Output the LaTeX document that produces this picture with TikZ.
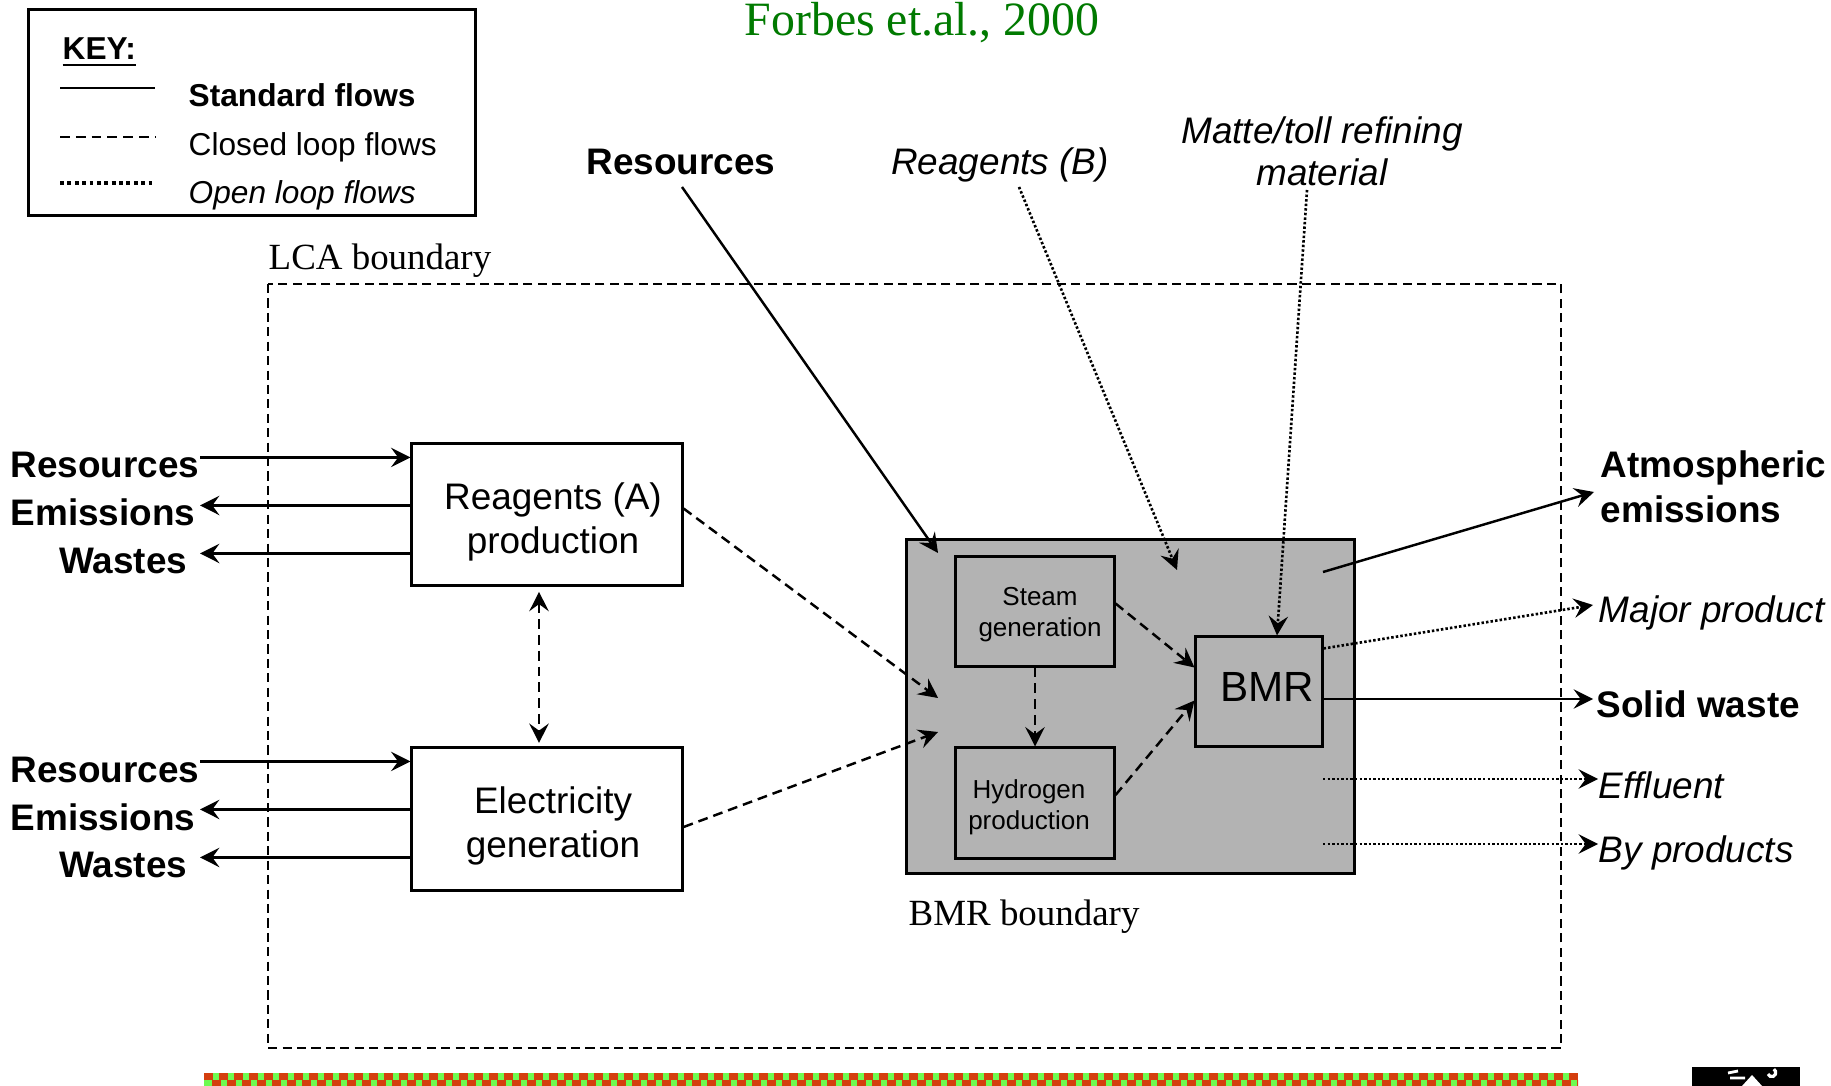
\documentclass[tikz,border=0pt]{standalone}
\usepackage{fontspec}
\setmainfont{Liberation Serif}
\setsansfont{Liberation Sans}
\usetikzlibrary{arrows.meta,calc}
\definecolor{bmrgray}{RGB}{179,179,179}
\definecolor{citegreen}{RGB}{0,122,0}
\definecolor{stripred}{RGB}{212,62,14}
\definecolor{stripgreen}{RGB}{110,250,80}
\tikzset{
  >={Stealth[length=5.5pt,width=5.5pt,inset=2pt]},
  flow/.style={line width=0.7pt,->},
  cflow/.style={flow,dash pattern=on 2.8pt off 1.7pt},
  oflow/.style={flow,line width=0.75pt,dash pattern=on 0.7pt off 0.6pt},
  lcadash/.style={line width=0.7pt,dash pattern=on 2.6pt off 1.5pt},
  bigbox/.style={draw,line width=0.85pt,fill=white,inner sep=0pt},
  smallbox/.style={draw,line width=0.85pt,fill=bmrgray,inner sep=0pt},
  bigtxt/.style={inner sep=0pt,align=center,font=\sffamily\fontsize{10.5}{12.5}\selectfont},
  smalltxt/.style={inner sep=0pt,align=center,font=\sffamily\fontsize{7.4}{8.9}\selectfont},
  boldlab/.style={inner sep=0pt,font=\sffamily\bfseries\fontsize{10.5}{12.8}\selectfont},
  itlab/.style={inner sep=0pt,font=\sffamily\itshape\fontsize{10.5}{12.2}\selectfont},
  seriflab/.style={inner sep=0pt,font=\rmfamily\fontsize{10.5}{12.5}\selectfont},
  keytxt/.style={inner sep=0pt,anchor=base west,font=\sffamily\fontsize{9}{11}\selectfont}
}

\begin{document}
\begin{tikzpicture}[x=0.01cm,y=-0.01cm]
    %%%%% START %%%%%
    \fill[white] (0,0) rectangle (1831,1086);
    \useasboundingbox (0,0) rectangle (1831,1086);

    \node[seriflab, text=citegreen, font=\rmfamily\fontsize{13.6}{16}\selectfont, anchor=base] (cite) at (922,36) {Forbes et.al., 2000};

    % key
    \node[draw, line width=0.85pt, minimum width=4.46cm, minimum height=2.05cm, inner sep=0pt] (keybox) at (252,112.5) {};
    \node[keytxt, font=\sffamily\bfseries\fontsize{9}{11}\selectfont] (keyhead) at (62,60) {\underline{KEY:}};
    \node[keytxt, font=\sffamily\bfseries\fontsize{9}{11}\selectfont] (keystd) at (188,107) {Standard flows};
    \node[keytxt] (keycl) at (188,156) {Closed loop flows};
    \node[keytxt, font=\sffamily\itshape\fontsize{9}{11}\selectfont] (keyop) at (188,204) {Open loop flows};
    \draw[line width=0.7pt] (60,88) -- (155,88);
    \draw[line width=0.7pt, dash pattern=on 2.8pt off 1.7pt] (60,137) -- (155,137);
    \draw[line width=1.1pt, dash pattern=on 1.1pt off 1pt] (60,183) -- (155,183);

    % LCA boundary
    \draw[lcadash] (268,284) rectangle (1561,1048);
    \node[seriflab, anchor=base west] (lcalab) at (268,270) {LCA boundary};

    \node[bigbox, minimum width=2.70cm, minimum height=1.41cm] (reagA) at (547,514.5) {};
    \node[bigtxt] (reagAtxt) at ($(reagA)+(6,7.5)$) {Reagents (A)\\production};
    \node[bigbox, minimum width=2.70cm, minimum height=1.42cm] (elec) at (547,819) {};
    \node[bigtxt] (electxt) at ($(elec)+(6,7)$) {Electricity\\generation};

    \node[boldlab, anchor=base east] (resA) at (200,478) {Resources};
    \node[boldlab, anchor=base east] (emA) at (196,526) {Emissions};
    \node[boldlab, anchor=base east] (wasA) at (188,574) {Wastes};
    \node[boldlab, anchor=base east] (resE) at (200,782) {Resources};
    \node[boldlab, anchor=base east] (emE) at (196,830) {Emissions};
    \node[boldlab, anchor=base east] (wasE) at (188,877) {Wastes};

    \coordinate (a1) at ($(reagA.north west)+(0,15)$);
    \coordinate (a2) at ($(reagA.north west)+(0,63)$);
    \coordinate (a3) at ($(reagA.north west)+(0,111)$);
    \coordinate (e1) at ($(elec.north west)+(0,15)$);
    \coordinate (e2) at ($(elec.north west)+(0,63)$);
    \coordinate (e3) at ($(elec.north west)+(0,111)$);
    \draw[flow] (resA.east |- a1) -- (a1);
    \draw[flow] (a2) -- (a2 -| resA.east);
    \draw[flow] (a3) -- (a3 -| resA.east);
    \draw[flow] (resE.east |- e1) -- (e1);
    \draw[flow] (e2) -- (e2 -| resE.east);
    \draw[flow] (e3) -- (e3 -| resE.east);

    \draw[cflow, <->, shorten <=1.5pt, shorten >=1pt] ($(reagA.south)+(-8,0)$) -- ($(elec.north)+(-8,0)$);

    % BMR boundary
    \node[draw, line width=0.85pt, fill=bmrgray, minimum width=4.47cm, minimum height=3.33cm, inner sep=0pt] (bmrb) at (1130.5,706.5) {};
    \node[seriflab, anchor=base west] (bmrlab) at (908,925) {BMR boundary};
    \node[smallbox, minimum width=1.58cm, minimum height=1.09cm] (steam) at (1035,611.5) {};
    \node[smalltxt] (steamtxt) at ($(steam)+(5,3)$) {Steam\\generation};
    \node[smallbox, minimum width=1.58cm, minimum height=1.10cm] (hyd) at (1035,803) {};
    \node[smalltxt] (hydtxt) at ($(hyd)+(-6,4)$) {Hydrogen\\production};
    \node[smallbox, minimum width=1.26cm, minimum height=1.09cm] (bmr) at (1259,691.5) {};
    \node[smalltxt, font=\sffamily\fontsize{12}{14}\selectfont] (bmrtxt) at ($(bmr)+(8,-5)$) {BMR};

    \coordinate (inR) at (938,553);
    \coordinate (inA) at (938,698);
    \coordinate (inE) at (938,732);
    \coordinate (inB) at (1177,570);
    \coordinate (atmSrc) at (1323,572);
    \coordinate (effSrc) at (1323,779);
    \coordinate (bySrc) at (1323,844);

    \draw[cflow] (steam.south) -- (hyd.north);
    \draw[cflow] ($(steam.east)+(0,-8)$) -- ($(bmr.west)+(0,-24)$);
    \draw[cflow] ($(hyd.east)+(0,-8)$) -- ($(bmr.west)+(0,9)$);
    \draw[cflow] ($(reagA.east)+(0,-6)$) -- (inA);
    \draw[cflow] ($(elec.east)+(0,8)$) -- (inE);

    % inputs
    \node[boldlab, anchor=base] (resT) at (681,175) {Resources};
    \node[itlab, anchor=base] (reagB) at (1000,175) {Reagents (B)};
    \node[itlab, align=center, anchor=south] (matte) at (1322,187) {Matte/toll refining\\material};
    \draw[flow] ($(resT.base)+(1,12)$) -- (inR);
    \draw[oflow] ($(reagB.base)+(19,12)$) -- (inB);
    \draw[oflow] ($(matte.south)+(-15,3)$) -- ($(bmr.north)+(18,0)$);

    % outputs
    \node[boldlab, align=left, anchor=west] (atm) at (1600,487) {Atmospheric\\emissions};
    \node[itlab, anchor=base west] (maj) at (1598,623) {Major product};
    \node[boldlab, anchor=base west] (waste) at (1596,718) {Solid waste};
    \node[itlab, anchor=base west] (eff) at (1598,798) {Effluent};
    \node[itlab, anchor=base west] (byp) at (1598,862) {By products};
    \draw[flow] (atmSrc) -- ($(atm.west)+(-6,5)$);
    \draw[oflow] ($(bmr.north east)+(0,13)$) -- ($(maj.base west)+(-5,-18)$);
    \draw[flow] ($(bmr.east)+(0,7.5)$) -- ($(waste.base west)+(-3,-19)$);
    \draw[oflow] (effSrc) -- (effSrc -| eff.west);
    \draw[oflow] (bySrc) -- (bySrc -| byp.west);

    % slide strip
    \begin{scope}
        \clip (204,1073) rectangle (1578,1086);
        \fill[stripgreen] (204,1073) rectangle (1578,1086);
        \foreach \i in {0,...,91} {
            \fill[stripred] (204+15*\i,1073) rectangle (213+15*\i,1079.5);
            \fill[stripred] (211.5+15*\i,1079.5) rectangle (220.5+15*\i,1086);
        }
    \end{scope}
    \fill[black] (1692,1067) rectangle (1800,1086);
    \draw[white, line width=0.8pt] (1728,1073) -- (1738,1071) (1730,1078) -- (1745,1078);
    \fill[white] (1742,1086) -- (1752,1075) -- (1762,1086) -- cycle;
    \draw[white, line width=0.9pt] (1768,1074) arc (160:-60:4);

    %%%%% END %%%%%
\end{tikzpicture}
\end{document}
